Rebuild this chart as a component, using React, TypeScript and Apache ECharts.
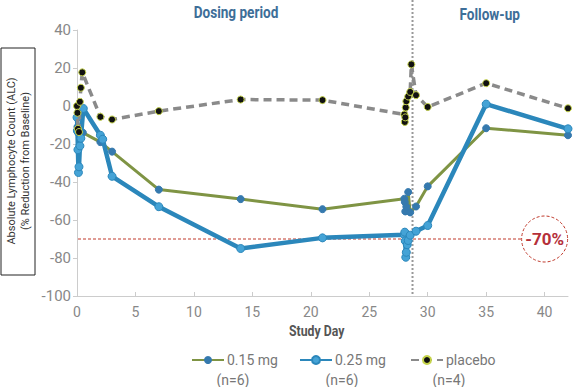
import React, { useEffect, useRef } from "react";
import * as echarts from "echarts";

const lowDoseDays = [0, 0.04, 0.08, 0.17, 0.33, 0.5, 2, 3, 7, 14, 21, 28, 28.04, 28.08, 28.17, 28.33, 28.5, 29, 30, 35, 42];
const lowDoseValues = [-13, -11, -14, -12, -13.7, -14, -19, -24, -44, -49, -54.3, -48.8, -50.5, -55.5, -53, -45.3, -56, -52.9, -42.3, -11.7, -15.4];

const highDoseDays = [0, 0.04, 0.08, 0.125, 0.17, 0.25, 0.33, 0.54, 2, 2.2, 3, 7, 14, 21, 28, 28.04, 28.08, 28.125, 28.17, 28.25, 28.33, 28.5, 29, 30, 35, 42];
const highDoseValues = [-6, -13, -23, -35, -32, -21, -17, -1.3, -15.4, -17.5, -37, -53, -75, -69.4, -67.7, -66.4, -71, -79.6, -77, -73, -70.8, -68, -65.9, -62.9, 1, -12];

const placeboDays = [0, 0.04, 0.08, 0.17, 0.25, 0.33, 0.45, 2, 3, 7, 14, 21, 28, 28.04, 28.08, 28.12, 28.17, 28.33, 28.5, 28.6, 29, 30, 35, 42];
const placeboValues = [0, -3.6, -12, -13.7, 2.2, 9.6, 17.7, -5.7, -7.1, -2.7, 3.4, 3.1, -4.5, -8.4, -6, -0.8, 2.5, 5, 7.4, 21.9, 5.7, -0.5, 12, -1.2];

const seriesNames = ["0.15 mg", "0.25 mg", "placebo"];
const seriesCounts = ["(n=6)", "(n=6)", "(n=4)"];
const thresholdValue = -70;
const dosingEndDay = 28.7;

const zip = (xs: number[], ys: number[]) => xs.map((x, i) => [x, ys[i]]);

const FONT = "Roboto, 'Liberation Sans', sans-serif";
const BOLD = "'Liberation Sans Narrow', Roboto, 'Liberation Sans', sans-serif";

export default function App() {
  const ref = useRef<HTMLDivElement>(null);
  useEffect(() => {
    if (!ref.current) return;
    document.body.style.margin = "0";
    const chart = echarts.init(ref.current, undefined, { renderer: "svg" });
    const legendBase = {
      top: 353,
      itemWidth: 32,
      itemHeight: 10,
      itemGap: 2,
      padding: 0,
      textStyle: { color: "#777", fontSize: 14, fontFamily: FONT, padding: [0, 0, 0, -2] },
    };
    chart.setOption({
      animation: false,
      backgroundColor: "#fff",
      grid: { left: 77, right: 5, top: 30, bottom: 91, containLabel: false },
      xAxis: {
        type: "value",
        min: 0,
        max: 42,
        interval: 5,
        axisLine: { show: true, onZero: false, lineStyle: { color: "#ccc" } },
        axisTick: { show: true, inside: true, length: 4, lineStyle: { color: "#ccc" } },
        axisLabel: { color: "#888", fontSize: 14, fontFamily: FONT, margin: 9, showMaxLabel: false },
        splitLine: { show: false },
      },
      yAxis: {
        type: "value",
        min: -100,
        max: 40,
        interval: 20,
        axisLine: { show: true, onZero: false, lineStyle: { color: "#ccc" } },
        axisTick: { show: true, inside: false, length: 4, lineStyle: { color: "#ccc" } },
        axisLabel: { color: "#888", fontSize: 15, fontFamily: FONT, margin: 6 },
        splitLine: { show: false },
      },
      legend: seriesNames.map((n, i) => ({
        ...legendBase,
        left: [191, 299, 410][i],
        data: [n],
      })),
      series: [
        {
          name: seriesNames[0],
          type: "line",
          data: zip(lowDoseDays, lowDoseValues),
          symbol: "circle",
          symbolSize: 7,
          z: 2,
          lineStyle: { color: "#7f9444", width: 3 },
          itemStyle: { color: "#3579ae", borderColor: "#3579ae" },
        },
        {
          name: seriesNames[1],
          type: "line",
          data: zip(highDoseDays, highDoseValues),
          symbol: "circle",
          symbolSize: 8,
          z: 3,
          lineStyle: { color: "#2b87bb", width: 4.5 },
          itemStyle: { color: "#45a3d6", borderColor: "#2b87bb", borderWidth: 1 },
        },
        {
          name: seriesNames[2],
          type: "line",
          data: zip(placeboDays, placeboValues),
          symbol: "circle",
          symbolSize: 7,
          z: 4,
          lineStyle: { color: "#8a8a8a", width: 3.5, type: [8, 5] },
          itemStyle: { color: "#111", borderColor: "#c5d34a", borderWidth: 1 },
        },
      ],
    });

    const [cx, cy] = chart.convertToPixel({ gridIndex: 0 }, [40, thresholdValue]) as number[];
    const [x0] = chart.convertToPixel({ gridIndex: 0 }, [0, thresholdValue]) as number[];
    const [vx, vBottom] = chart.convertToPixel({ gridIndex: 0 }, [dosingEndDay, -100]) as number[];
    const [dosingMidX] = chart.convertToPixel({ gridIndex: 0 }, [13.6, 0]) as number[];
    const [followMidX] = chart.convertToPixel({ gridIndex: 0 }, [35.3, 0]) as number[];
    const [studyDayX] = chart.convertToPixel({ gridIndex: 0 }, [20.5, 0]) as number[];

    chart.setOption({
      graphic: [
        {
          type: "line",
          shape: { x1: vx, y1: 0, x2: vx, y2: vBottom },
          style: { stroke: "#999", lineWidth: 2, lineDash: [2, 2] },
          z: 1,
        },
        {
          type: "line",
          shape: { x1: x0 + 1, y1: cy, x2: cx - 23, y2: cy },
          style: { stroke: "#c0392b", lineWidth: 1, lineDash: [3, 2] },
          z: 1,
        },
        {
          type: "text",
          x: dosingMidX,
          y: 13,
          scaleX: 0.85,
          style: { text: "Dosing period", fill: "#3d6e98", font: `bold 16px ${BOLD}`, align: "center", verticalAlign: "middle" },
        },
        {
          type: "text",
          x: followMidX,
          y: 15,
          scaleX: 0.85,
          style: { text: "Follow-up", fill: "#3d6e98", font: `bold 16px ${BOLD}`, align: "center", verticalAlign: "middle" },
        },
        {
          type: "text",
          x: studyDayX,
          y: 331,
          scaleX: 0.82,
          style: { text: "Study Day", fill: "#555", font: `bold 15px ${BOLD}`, align: "center", verticalAlign: "middle" },
        },
        {
          type: "circle",
          shape: { cx, cy, r: 23 },
          style: { fill: "#fff", stroke: "#c0392b", lineWidth: 1, lineDash: [3, 2] },
          z: 10,
        },
        {
          type: "text",
          x: cx,
          y: cy,
          z: 11,
          style: { text: "-70%", fill: "#b5303a", font: `bold 17px ${FONT}`, align: "center", verticalAlign: "middle" },
        },
        {
          type: "rect",
          shape: { x: 1, y: 48, width: 34, height: 227 },
          style: { fill: "#fff", stroke: "#222", lineWidth: 1 },
        },
        {
          type: "text",
          x: 18,
          y: 161,
          rotation: Math.PI / 2,
          style: {
            text: "Absolute Lymphocyte Count (ALC)\n(% Reduction from Baseline)",
            fill: "#333",
            font: `11px ${FONT}`,
            align: "center",
            verticalAlign: "middle",
            lineHeight: 14,
          },
        },
        ...seriesCounts.map((t, i) => ({
          type: "text",
          x: [233, 342, 449][i],
          y: 380,
          style: { text: t, fill: "#777", font: `14px ${FONT}`, align: "center", verticalAlign: "middle" },
        })),
      ],
    });
    return () => chart.dispose();
  }, []);
  return <div ref={ref} style={{ width: 573, height: 387 }} />;
}
